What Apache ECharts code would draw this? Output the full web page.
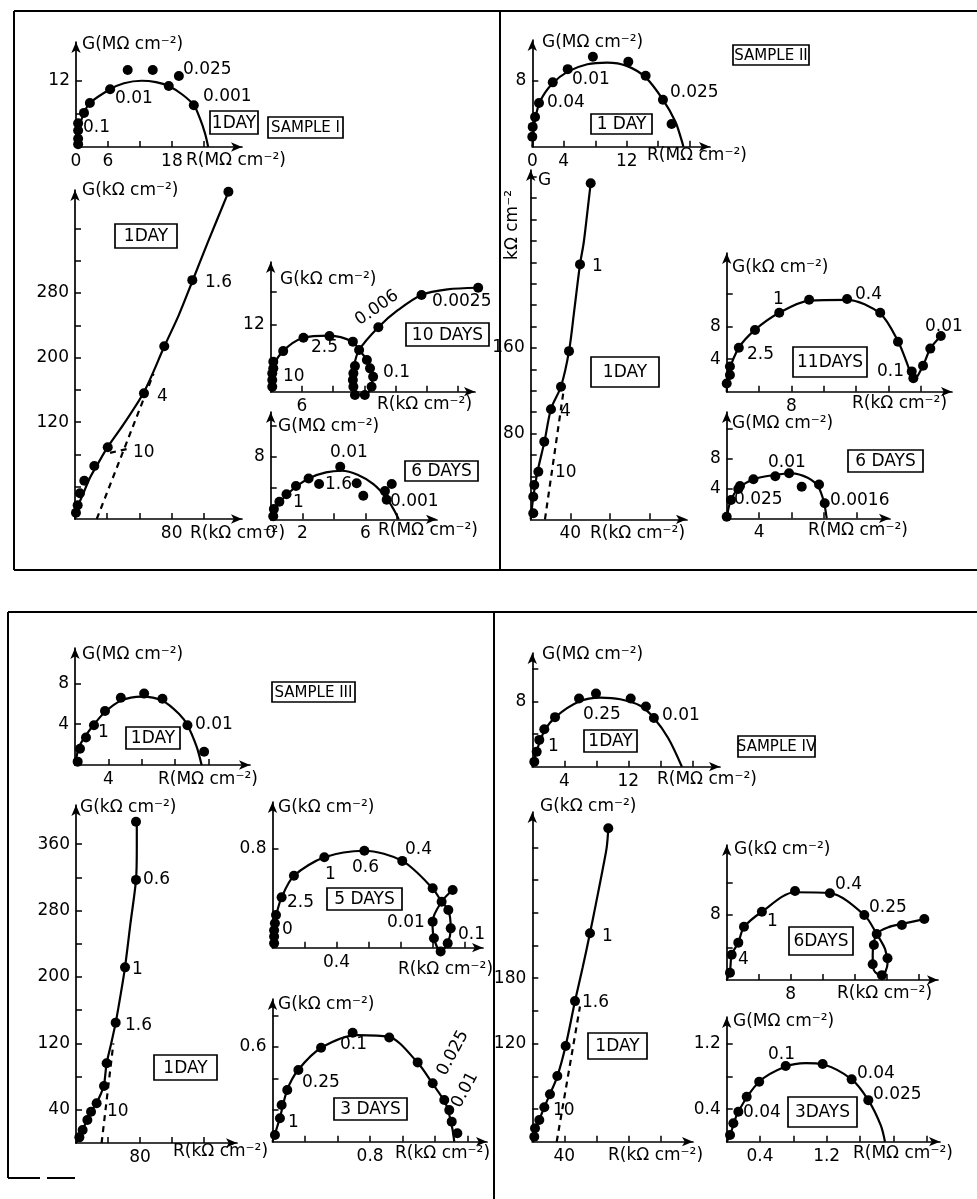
<!DOCTYPE html>
<html><head><meta charset="utf-8">
<script src="https://cdn.jsdelivr.net/npm/echarts@6/dist/echarts.min.js"></script>
<style>html,body{margin:0;padding:0;background:#fff}#c{width:977px;height:1199px}</style>
</head><body><div id="c"></div><script>
// ================= DATA =================
// Sample I
const sI_day1M_points = [[0.4,0.5],[0.4,1.5],[0.4,3.0],[0.4,4.3],[1.5,6.2],[2.6,8.0],[6.4,10.5],[9.7,14.0],[14.4,14.0],[17.4,11.1],[19.3,12.9],[22.1,7.6]];
const sI_day1M_fit = [[0,0],[0.4,3],[1.5,6.2],[2.6,8],[6.4,10.5],[9,11.6],[12.3,12.05],[15,11.8],[17.4,11.1],[20,9.5],[22.1,7.6],[23.25,5.2],[24.2,2.5],[24.8,0]];
const sI_day1M_xLabels = [0,6,18];
const sI_day1M_yLabels = [12];

const sI_day1k_points = [[0.8,7.8],[2.2,17],[4.1,31.8],[7.7,47.5],[16,65.7],[27.1,88.8],[57.1,155.7],[73.9,214],[97.1,296],[127,405.6]];
const sI_day1k_fit = [[0,0],[3,18],[7,32],[12,50],[18,66],[27,89],[40,117],[57,157],[74,214],[86,253],[97,294],[110,343],[127,405]];
const sI_day1k_dashed = [[18,0],[65,180]];
const sI_day1k_leader = [[29,82],[44,87]];
const sI_day1k_xLabels = [80];
const sI_day1k_yLabels = [120,200,280];

const sI_day10_points = [[0.3,0.9],[0.3,2.1],[0.3,3.3],[0.5,4.2],[0.5,5.4],[2.4,7.3],[6.3,9.7],[11.3,10.0],[15.8,9.0],[17.0,7.5],[16.2,4.6],[15.9,3.3],[15.8,2.1],[15.9,0.9],[16.2,-0.6],[18.1,-0.6],[19.4,0.9],[19.7,2.7],[19.1,4.2],[18.5,5.7],[20.7,11.6],[29.0,17.4],[39.9,18.7]];
const sI_day10_fit = [[0.3,0],[0.4,4],[2.4,7.3],[6.3,9.7],[11.3,10.1],[15.8,9.0],[17,7.5],[18.5,5.7],[19.4,3.5],[19.5,1.2],[18.1,-0.5],[16.3,-0.5],[15.8,1.5],[16,4.5],[17,7.5],[20.7,11.6],[24.5,14.7],[29,17.4],[34,18.4],[39.9,18.7]];
const sI_day10_xLabels = [6];
const sI_day10_yLabels = [12];

const sI_day6_points = [[0.16,0.4],[0.2,1.3],[0.55,2.25],[1.0,3.2],[1.6,4.25],[2.4,5.2],[3.06,4.5],[4.4,6.7],[5.44,4.6],[5.86,3.0],[7.23,3.6],[7.66,4.5],[7.34,2.5]];
const sI_day6_fit = [[0,0],[0.5,2],[1.5,4],[2.5,5.3],[3.5,6],[4.5,6.2],[5.5,5.7],[6.5,4.5],[7.3,2.8],[7.8,1.2],[8.1,0]];
const sI_day6_xLabels = [0,2,6];
const sI_day6_yLabels = [8];

// Sample II
const sII_day1M_points = [[0,1.2],[0.05,2.4],[0.35,3.6],[0.85,5.3],[2.6,7.8],[4.5,9.4],[7.7,10.9],[12.2,10.3],[14.4,8.6],[16.6,5.7],[17.7,2.75]];
const sII_day1M_fit = [[0,0],[0.3,3],[1,5.5],[2.5,7.6],[4.5,9.1],[7,10],[9.5,10.2],[12,9.8],[14.4,8.4],[16.6,5.7],[18.2,3],[18.9,1],[19.2,0]];
const sII_day1M_xLabels = [0,4,12];
const sII_day1M_yLabels = [8];

const sII_day1k_points = [[2.6,5.6],[2.6,21],[3.6,32],[7.7,44.4],[13.7,72.5],[20.5,102.7],[30.6,123.8],[38.7,157],[49.8,238],[60.6,313.7]];
const sII_day1k_fit = [[0,0],[2.5,20],[7,45],[14,73],[20.5,103],[30.6,124],[38.7,157],[44,195],[49.8,238],[53.5,258],[57,285],[60.6,314]];
const sII_day1k_dashed = [[14.4,0],[34,125]];
const sII_day1k_xLabels = [40];
const sII_day1k_yLabels = [80,160];

const sII_day11_points = [[0,1.0],[0.4,2.05],[0.4,3.1],[1.5,5.4],[3.5,7.6],[6.5,9.7],[10.2,11.3],[14.9,11.4],[19.0,9.7],[21.2,6.15],[22.9,2.5],[23.1,1.65],[24.3,3.2],[25.2,5.3],[26.5,6.85]];
const sII_day11_fit = [[0,0],[0.3,2.5],[1.5,5.4],[3.5,7.6],[6.5,9.7],[10.2,11.2],[14.9,11.3],[19,9.6],[21.2,6.2],[22.5,3],[23.1,1.3],[24.3,3.2],[25.2,5.3],[26.5,6.85]];
const sII_day11_xLabels = [8];
const sII_day11_yLabels = [4,8];

const sII_day6_points = [[0,0.2],[0.53,2.44],[1.43,3.9],[1.64,4.3],[3.3,5.2],[6.0,5.6],[7.7,6.0],[9.26,4.2],[11.4,4.5],[12.1,2.0]];
const sII_day6_fit = [[0,0],[0.5,2.4],[1.5,4],[3.3,5.2],[6,5.8],[8,6.0],[10,5.4],[11.3,4.2],[12,2.2],[12.35,0]];
const sII_day6_xLabels = [4];
const sII_day6_yLabels = [4,8];

// Sample III
const sIII_day1M_points = [[0.32,0.33],[0.6,1.6],[1.32,2.7],[2.28,3.9],[3.6,5.3],[5.5,6.6],[8.3,7.0],[10.5,6.5],[13.5,3.9],[15.5,1.3]];
const sIII_day1M_fit = [[0,0],[0.5,1.8],[1.3,2.9],[2.3,4],[3.6,5.2],[5.5,6.3],[8,6.7],[10.5,6.3],[12.5,5],[13.5,3.9],[14.6,1.8],[15.2,0]];
const sIII_day1M_xLabels = [4];
const sIII_day1M_yLabels = [4,8];

const sIII_day1k_points = [[4.2,6.8],[8.3,15.7],[14.2,27.7],[18.8,37.7],[25.8,47.8],[35,68.7],[38.3,96],[49.6,145],[61.3,211.6],[75,317],[75,387]];
const sIII_day1k_fit = [[0,0],[4.2,7],[8.3,16],[14.2,28],[19,38],[26,49],[31,59],[35,70],[38.3,96],[44,120],[49.6,145],[56,180],[61.3,212],[68,264],[75,317],[76,355],[76,387]];
const sIII_day1k_dashed = [[32,0],[46.7,120]];
const sIII_day1k_xLabels = [80];
const sIII_day1k_yLabels = [40,120,200,280,360];

const sIII_day5_points = [[0.01,0.035],[0.01,0.09],[0.01,0.14],[0.015,0.197],[0.022,0.264],[0.057,0.406],[0.134,0.58],[0.324,0.729],[0.574,0.782],[0.811,0.70],[1.001,0.479],[1.057,0.371],[1.126,0.465],[1.001,0.21],[1.009,0.076],[1.051,-0.03],[1.095,0.035],[1.114,0.156],[1.099,0.304]];
const sIII_day5_fit = [[0,0],[0.01,0.15],[0.025,0.27],[0.057,0.406],[0.134,0.58],[0.324,0.729],[0.574,0.782],[0.811,0.70],[1.0,0.48],[1.057,0.371],[1.099,0.304],[1.114,0.156],[1.095,0.035],[1.051,-0.03],[1.009,0.076],[1.0,0.21],[1.057,0.371],[1.126,0.465]];
const sIII_day5_xLabels = [0.4];
const sIII_day5_yLabels = [0.8];

const sIII_day3_points = [[0.02,0.042],[0.061,0.148],[0.075,0.232],[0.121,0.327],[0.212,0.454],[0.398,0.595],[0.657,0.69],[0.957,0.66],[1.19,0.502],[1.313,0.37],[1.408,0.264],[1.449,0.2],[1.469,0.127],[1.515,0.053]];
const sIII_day3_fit = [[0,0],[0.06,0.15],[0.12,0.327],[0.21,0.454],[0.4,0.595],[0.7,0.675],[0.95,0.665],[1.19,0.5],[1.31,0.37],[1.42,0.24],[1.47,0.1],[1.49,0]];
const sIII_day3_xLabels = [0.8];
const sIII_day3_yLabels = [0.6];

// Sample IV
const sIV_day1M_points = [[0.25,0.6],[0.55,1.85],[0.875,3.3],[1.5,4.6],[2.84,6.1],[5.84,8.4],[7.96,9.0],[12.3,8.4],[14.2,7.4],[15.2,6.0]];
const sIV_day1M_fit = [[0,0],[0.5,1.8],[1.5,4.4],[3,6.2],[5.8,8],[8.5,8.5],[11,8.3],[13.5,7.5],[15.2,6.0],[17,3.5],[18.7,0]];
const sIV_day1M_xLabels = [4,12];
const sIV_day1M_yLabels = [8];

const sIV_day1k_points = [[2.5,34.6],[3.4,42.3],[8.75,49.9],[15,61.6],[22.1,73.5],[31.3,90.3],[41.7,117.8],[53.4,159],[72.1,221.2],[95,317.5]];
const sIV_day1k_fit = [[0,30],[3,38],[8.75,50],[15,61.6],[22,73.5],[31.3,90],[41.7,118],[53.4,159],[63,190],[72,221],[80,250],[88,280],[93,300],[95,317]];
const sIV_day1k_dashed = [[30.5,30],[59.6,154]];
const sIV_day1k_xLabels = [40];
const sIV_day1k_yLabels = [120,180];

const sIV_day6_points = [[0.41,0.9],[0.625,3.1],[1.45,4.6],[2.16,6.56],[4.4,8.4],[8.54,10.95],[12.9,10.67],[17.2,8.0],[18.75,5.66],[18.4,4.3],[18.25,1.93],[19.4,0.6],[20.1,2.67],[21.9,6.77],[24.7,7.5]];
const sIV_day6_fit = [[0,0],[0.4,1],[0.625,3.1],[1.45,4.6],[2.16,6.5],[4.4,8.4],[8.5,10.8],[12.9,10.7],[17.2,8],[18.75,5.66],[19.8,3.8],[20.1,2.0],[19.4,0.5],[18.4,1.2],[18.25,3],[18.75,5.66],[20.5,6.6],[21.9,6.9],[24.7,7.5]];
const sIV_day6_xLabels = [8];
const sIV_day6_yLabels = [8];

const sIV_day3_points = [[0.04,0.082],[0.08,0.226],[0.14,0.368],[0.24,0.552],[0.39,0.736],[0.708,0.929],[1.152,0.953],[1.5,0.765],[1.7,0.51]];
const sIV_day3_fit = [[0,0],[0.04,0.08],[0.14,0.37],[0.39,0.736],[0.7,0.92],[0.95,0.965],[1.15,0.95],[1.5,0.765],[1.7,0.51],[1.85,0.2],[1.9,0]];
const sIV_day3_xLabels = [0.4,1.2];
const sIV_day3_yLabels = [0.4,1.2];

// ================= LAYOUT (pixel geometry of each small chart) =================
const INK = '#000';
const FONT = '"DejaVu Sans"';
const FS = 17;
const BOXFS = 17;
const panels = [
  {pts:sI_day1M_points, fit:sI_day1M_fit, xl:sI_day1M_xLabels, yl:sI_day1M_yLabels, L:{ox:76,oy:147,xEnd:242,yTop:42,kx:5.33,ky:5.5,xInt:6,yInt:6}},
  {pts:sI_day1k_points, fit:sI_day1k_fit, dash:[sI_day1k_dashed,sI_day1k_leader], xl:sI_day1k_xLabels, yl:sI_day1k_yLabels, L:{ox:75,oy:519,xEnd:242,yTop:190,kx:1.208,ky:0.807,xInt:80/3,yInt:40}},
  {pts:sI_day10_points, fit:sI_day10_fit, xl:sI_day10_xLabels, yl:sI_day10_yLabels, L:{ox:270.7,oy:391.7,xEnd:475,yTop:262,kx:5.2,ky:5.56,xInt:6,yInt:6}},
  {pts:sI_day6_points, fit:sI_day6_fit, xl:sI_day6_xLabels, yl:sI_day6_yLabels, L:{ox:270.7,oy:519.3,xEnd:437,yTop:412,kx:15.8,ky:7.83,xInt:2,yInt:4}},
  {pts:sII_day1M_points, fit:sII_day1M_fit, xl:sII_day1M_xLabels, yl:sII_day1M_yLabels, L:{ox:532.3,oy:146.7,xEnd:710,yTop:40,kx:7.87,ky:8.25,xInt:4,yInt:4}},
  {pts:sII_day1k_points, fit:sII_day1k_fit, dash:[sII_day1k_dashed], xl:sII_day1k_xLabels, yl:sII_day1k_yLabels, L:{ox:530.7,oy:519.3,xEnd:687,yTop:170,kx:0.99,ky:1.071,xInt:40,yInt:20}},
  {pts:sII_day11_points, fit:sII_day11_fit, xl:sII_day11_xLabels, yl:sII_day11_yLabels, L:{ox:726.7,oy:391.7,xEnd:952,yTop:253,kx:8.08,ky:8.13,xInt:4,yInt:4}},
  {pts:sII_day6_points, fit:sII_day6_fit, xl:sII_day6_xLabels, yl:sII_day6_yLabels, L:{ox:726.7,oy:518.3,xEnd:890,yTop:412,kx:8.1,ky:7.5,xInt:4,yInt:4}},
  {pts:sIII_day1M_points, fit:sIII_day1M_fit, xl:sIII_day1M_xLabels, yl:sIII_day1M_yLabels, L:{ox:75,oy:765,xEnd:250,yTop:648,kx:8.33,ky:10.2,xInt:4,yInt:4}},
  {pts:sIII_day1k_points, fit:sIII_day1k_fit, dash:[sIII_day1k_dashed], xl:sIII_day1k_xLabels, yl:sIII_day1k_yLabels, L:{ox:76,oy:1143,xEnd:237,yTop:805,kx:0.8,ky:0.83,xInt:40,yInt:40}},
  {pts:sIII_day5_points, fit:sIII_day5_fit, xl:sIII_day5_xLabels, yl:sIII_day5_yLabels, L:{ox:272.5,oy:947.7,xEnd:483,yTop:802,kx:160,ky:124,xInt:0.2,yInt:0.8}},
  {pts:sIII_day3_points, fit:sIII_day3_fit, xl:sIII_day3_xLabels, yl:sIII_day3_yLabels, L:{ox:272.5,oy:1141.7,xEnd:487,yTop:999,kx:122,ky:158,xInt:0.8/3,yInt:0.2}},
  {pts:sIV_day1M_points, fit:sIV_day1M_fit, xl:sIV_day1M_xLabels, yl:sIV_day1M_yLabels, L:{ox:532.3,oy:766.7,xEnd:720,yTop:653,kx:8.0,ky:8.125,xInt:4,yInt:4}},
  {pts:sIV_day1k_points, fit:sIV_day1k_fit, dash:[sIV_day1k_dashed], xl:sIV_day1k_xLabels, yl:sIV_day1k_yLabels, L:{ox:532.3,oy:1141.7,xEnd:693,yTop:812,kx:0.8,ky:1.09,yMin:30,xInt:40,yInt:30}},
  {pts:sIV_day6_points, fit:sIV_day6_fit, xl:sIV_day6_xLabels, yl:sIV_day6_yLabels, L:{ox:726.7,oy:980,xEnd:938,yTop:845,kx:8,ky:8.125,xInt:4,yInt:4}},
  {pts:sIV_day3_points, fit:sIV_day3_fit, xl:sIV_day3_xLabels, yl:sIV_day3_yLabels, L:{ox:726.7,oy:1141.7,xEnd:940,yTop:1017,kx:83.3,ky:81.5,xInt:0.4,yInt:0.4}}
];

// texts: [text, x(left), y(middle)] ; rotated: [text, cx, cy, degrees]
const texts = [
  ['0.025',183,70],['0.01',115,99],['0.001',203,97],['0.1',83,128],['G(MΩ cm⁻²)',82,45],['R(MΩ cm⁻²)',186,161],
  ['1.6',205,283],['4',157,397],['10',133,453],['G(kΩ cm⁻²)',82,191],['R(kΩ cm⁻²)',190,534],
  ['10',283,377],['2.5',311,348],['0.1',383,373],['0.0025',432,302],['G(kΩ cm⁻²)',280,280],['R(kΩ cm⁻²)',377,405],
  ['0.01',330,453],['1.6',325,485],['1',293,503],['0.001',390,502],['G(MΩ cm⁻²)',278,427],['R(MΩ cm⁻²)',378,531],
  ['0.01',572,80],['0.04',547,103],['0.025',670,93],['G(MΩ cm⁻²)',542,43],['R(MΩ cm⁻²)',647,156],
  ['1',592,267],['4',560,412],['10',555,473],['G',538,181],['R(kΩ cm⁻²)',590,534],
  ['1',773,300],['0.4',855,295],['0.01',925,327],['2.5',747,355],['0.1',877,372],['G(kΩ cm⁻²)',732,268],['R(kΩ cm⁻²)',852,404],
  ['0.01',768,463],['0.025',734,500],['0.0016',830,501],['G(MΩ cm⁻²)',732,424],['R(MΩ cm⁻²)',808,531],
  ['1',98,733],['0.01',195,725],['G(MΩ cm⁻²)',82,655],['R(MΩ cm⁻²)',158,780],
  ['0.6',143,880],['1',132,970],['1.6',125,1026],['10',107,1112],['G(kΩ cm⁻²)',80,808],['R(kΩ cm⁻²)',173,1152],
  ['0.4',405,850],['0.6',352,868],['1',325,875],['2.5',287,903],['0',282,930],['0.01',387,923],['0.1',458,935],['G(kΩ cm⁻²)',278,808],['R(kΩ cm⁻²)',398,970],
  ['0.1',340,1045],['0.25',302,1083],['1',288,1123],['G(kΩ cm⁻²)',278,1005],['R(kΩ cm⁻²)',395,1154],
  ['1',548,747],['0.25',583,715],['0.01',662,716],['G(MΩ cm⁻²)',542,655],['R(MΩ cm⁻²)',657,780],
  ['1',602,937],['1.6',582,1003],['10',553,1111],['G(kΩ cm⁻²)',540,807],['R(kΩ cm⁻²)',608,1156],
  ['1',767,922],['0.4',835,885],['0.25',869,908],['4',738,960],['G(kΩ cm⁻²)',734,850],['R(kΩ cm⁻²)',837,994],
  ['0.1',768,1055],['0.04',857,1074],['0.025',873,1095],['0.04',743,1113],['G(MΩ cm⁻²)',733,1022],['R(MΩ cm⁻²)',853,1154]
];
const rotTexts = [['0.006',377,308,35],['kΩ cm⁻²',513,225,90],['0.025',453,1053,62],['0.01',465,1090,62]];
// boxes: [text, x, y, w, h, fontSize]
const boxes = [
  ['1DAY',210,111,48,23],['SAMPLE I',268,117,75,21,15],['1DAY',115,224,62,24],['10 DAYS',406,323,83,23],['6 DAYS',405,461,73,20],
  ['1 DAY',591,114,61,20],['SAMPLE II',733,45,76,20,15],['1DAY',591,357,68,30],['11DAYS',793,347,74,30],['6 DAYS',848,450,75,22],
  ['1DAY',126,727,54,22],['SAMPLE III',272,682,83,20,15],['1DAY',154,1055,63,25],['5 DAYS',327,888,75,22],['3 DAYS',334,1098,73,22],
  ['1DAY',584,730,53,22],['SAMPLE IV',738,736,77,21,15],['1DAY',588,1033,59,26],['6DAYS',789,927,64,28],['3DAYS',788,1097,69,30]
];
// frame lines
const frames = [[14,11,977,11],[14,11,14,570],[14,570,977,570],[500,11,500,570],
  [8,612,977,612],[8,612,8,1178],[494,612,494,1199],[8,1178,40,1178],[47,1178,75,1178]];

// ================= BUILD =================
function fmt(v){return String(+(+v).toFixed(4));}
function tickList(min,max,int){const a=[];for(let k=1;k<500;k++){const v=min+k*int;if(v>max-int*0.3)break;a.push(+v.toFixed(6));}return a;}
function axisCfg(i,min,max,int,labels){
  return {type:'value',gridIndex:i,min:min,max:max,interval:int,scale:true,
    axisLine:{show:true,onZero:false,symbol:['none','arrow'],symbolSize:[7,11],lineStyle:{color:INK,width:1.7}},
    axisTick:{show:true,inside:true,length:6,customValues:tickList(min,max,int),lineStyle:{color:INK,width:1.5}},
    axisLabel:{show:true,customValues:labels,color:INK,fontSize:FS,fontFamily:'DejaVu Sans',margin:6,hideOverlap:false,
      formatter:function(v){return labels.some(t=>Math.abs(t-v)<int*0.02)?fmt(v):'';}},
    splitLine:{show:false}};
}
const grids=[],xAxes=[],yAxes=[],series=[];
panels.forEach((p,i)=>{
  const L=p.L, ymin=L.yMin||0;
  grids.push({left:L.ox,top:L.yTop,width:L.xEnd-L.ox,height:L.oy-L.yTop,containLabel:false,outerBoundsMode:'none',show:false});
  xAxes.push(axisCfg(i,0,(L.xEnd-L.ox)/L.kx,L.xInt,p.xl));
  yAxes.push(axisCfg(i,ymin,ymin+(L.oy-L.yTop)/L.ky,L.yInt,p.yl));
  series.push({type:'line',xAxisIndex:i,yAxisIndex:i,data:p.fit,smooth:0.3,showSymbol:false,clip:false,silent:true,
    lineStyle:{color:INK,width:2.2}});
  series.push({type:'scatter',xAxisIndex:i,yAxisIndex:i,data:p.pts,symbol:'circle',symbolSize:10,clip:false,silent:true,
    itemStyle:{color:INK,opacity:1}});
  (p.dash||[]).forEach(d=>series.push({type:'line',xAxisIndex:i,yAxisIndex:i,data:d,showSymbol:false,clip:false,silent:true,
    lineStyle:{color:INK,width:2.2,type:[6,5]}}));
});
const graphic=[];
frames.forEach(f=>graphic.push({type:'line',shape:{x1:f[0],y1:f[1],x2:f[2],y2:f[3]},style:{stroke:INK,lineWidth:2},silent:true}));
const font=FS+'px '+FONT;
texts.forEach(t=>graphic.push({type:'text',x:t[1],y:t[2],silent:true,
  style:{text:t[0],fill:INK,font:font,textAlign:'left',textVerticalAlign:'middle',align:'left',verticalAlign:'middle'}}));
rotTexts.forEach(t=>graphic.push({type:'text',x:t[1],y:t[2],rotation:t[3]*Math.PI/180,silent:true,
  style:{text:t[0],fill:INK,font:font,textAlign:'center',textVerticalAlign:'middle',align:'center',verticalAlign:'middle'}}));
boxes.forEach(b=>{
  graphic.push({type:'rect',shape:{x:b[1],y:b[2],width:b[3],height:b[4]},style:{fill:'none',stroke:INK,lineWidth:1.7},silent:true});
  graphic.push({type:'text',x:b[1]+b[3]/2,y:b[2]+b[4]/2+1,silent:true,
    style:{text:b[0],fill:INK,font:(b[5]||BOXFS)+'px '+FONT,textAlign:'center',textVerticalAlign:'middle',align:'center',verticalAlign:'middle'}});
});
const chart=echarts.init(document.getElementById('c'),null,{renderer:'canvas'});
chart.setOption({backgroundColor:'#fff',animation:false,grid:grids,xAxis:xAxes,yAxis:yAxes,series:series,graphic:graphic});
</script></body></html>
